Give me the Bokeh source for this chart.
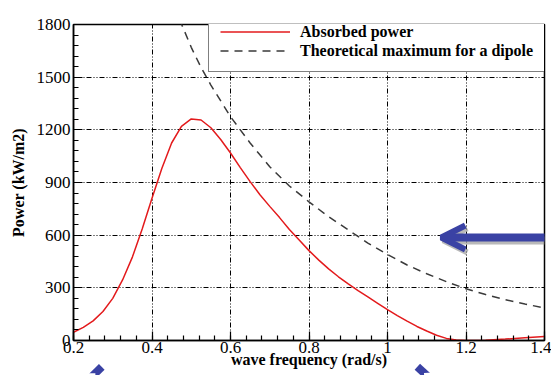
from bokeh.plotting import figure
from bokeh.models import FixedTicker, Legend, LegendItem, Arrow, OpenHead, VeeHead, Range1d
from bokeh.embed import file_html
from bokeh.resources import INLINE
import numpy as np

# ---- data ----
freq = [0.200, 0.225, 0.250, 0.275, 0.300, 0.325, 0.350, 0.375, 0.400, 0.425, 0.450,
        0.475, 0.500, 0.525, 0.550, 0.575, 0.600, 0.625, 0.650, 0.675, 0.700, 0.725,
        0.750, 0.775, 0.800, 0.825, 0.850, 0.875, 0.900, 0.925, 0.950, 0.975, 1.000,
        1.025, 1.050, 1.075, 1.100, 1.125, 1.150, 1.175, 1.200, 1.250, 1.300, 1.350, 1.400]
absorbed_power = [47, 75, 112, 165, 240, 345, 475, 635, 810, 980, 1125,
                  1220, 1262, 1256, 1212, 1145, 1068, 985, 905, 830, 764, 700,
                  632, 572, 512, 458, 408, 363, 322, 284, 248, 212, 176,
                  142, 110, 80, 54, 30, 12, 3, 0, 1, 8, 16, 23]

freq_max = [0.47, 0.50, 0.525, 0.55, 0.60, 0.65, 0.70, 0.75, 0.80, 0.85, 0.90, 0.95,
            1.00, 1.05, 1.10, 1.15, 1.20, 1.25, 1.30, 1.35, 1.40]
theoretical_max = [1830, 1670, 1555, 1455, 1275, 1125, 990, 880, 790, 705, 630, 555,
                   490, 430, 380, 335, 295, 262, 233, 208, 185]

series_names = ["Absorbed power", "Theoretical maximum for a dipole"]
x_ticks = [0.2, 0.4, 0.6, 0.8, 1.0, 1.2, 1.4]
x_tick_labels = ["0.2", "0.4", "0.6", "0.8", "1", "1.2", "1.4"]
y_ticks = [0, 300, 600, 900, 1200, 1500, 1800]
y_tick_labels = ["0", "300", "600", "900", "1200", "1500", "1800"]
x_label = "wave frequency (rad/s)"
y_label = "Power (kW/m2)"

FONT = "Liberation Serif"
RED = "#e31a1c"
DASH_COLOR = "#3a3a3a"
BLUE = "#3a42a4"

p = figure(width=551, height=375, x_range=Range1d(0.2, 1.4), y_range=Range1d(0, 1800),
           output_backend="svg", toolbar_location=None,
           min_border_left=73, min_border_right=7, min_border_top=24, min_border_bottom=35)
p.background_fill_color = "white"
p.border_fill_color = "white"
p.outline_line_color = "black"
p.outline_line_width = 1.5
p.outline_line_alpha = 1.0

# ticks
xt = FixedTicker(ticks=x_ticks, minor_ticks=list(np.round(np.arange(0.2, 1.4001, 0.04), 4)))
yt = FixedTicker(ticks=y_ticks, minor_ticks=list(range(0, 1801, 60)))
p.xaxis.ticker = xt
p.yaxis.ticker = yt
p.xaxis.major_label_overrides = {v: s for v, s in zip(x_ticks, x_tick_labels)}
p.yaxis.major_label_overrides = {v: s for v, s in zip(y_ticks, y_tick_labels)}

for ax in (p.xaxis[0], p.yaxis[0]):
    ax.axis_line_color = "black"
    ax.axis_line_width = 1.5
    ax.major_tick_line_color = "black"
    ax.major_tick_line_width = 1.2
    ax.minor_tick_line_color = "black"
    ax.minor_tick_line_width = 1.2
    ax.major_tick_in = 9
    ax.major_tick_out = 0
    ax.minor_tick_in = 5
    ax.minor_tick_out = 0
    ax.major_label_text_font = FONT
    ax.major_label_text_font_size = "17px"
    ax.major_label_text_color = "black"
    ax.axis_label_text_font = FONT
    ax.axis_label_text_font_style = "bold"
    ax.axis_label_text_font_size = "16px"
    ax.axis_label_text_color = "black"

p.xaxis.axis_label = x_label
p.yaxis.axis_label = y_label
p.xaxis.major_label_standoff = 1
p.xaxis.axis_label_standoff = -5
p.yaxis.major_label_standoff = 3
p.yaxis.axis_label_standoff = 7

# grid
p.xgrid.ticker = FixedTicker(ticks=x_ticks[1:-1])
p.ygrid.ticker = FixedTicker(ticks=y_ticks[1:-1])
for g in (p.xgrid[0], p.ygrid[0]):
    g.grid_line_color = "black"
    g.grid_line_width = 1
    g.grid_line_dash = "5 2 1 2 1 2"

# series
r1 = p.line(freq, absorbed_power, line_color=RED, line_width=1.5)
r2 = p.line(freq_max, theoretical_max, line_color=DASH_COLOR, line_width=1.5, line_dash="8 6")

legend = Legend(items=[LegendItem(label=series_names[0], renderers=[r1]),
                       LegendItem(label=series_names[1], renderers=[r2])],
                location=(135, 268))
legend.border_line_color = "black"
legend.border_line_width = 1.5
legend.background_fill_color = "white"
legend.background_fill_alpha = 1.0
legend.label_text_font = FONT
legend.label_text_font_style = "bold"
legend.label_text_font_size = "16px"
legend.label_text_color = "black"
legend.glyph_width = 70
legend.glyph_height = 19
legend.label_height = 19
legend.label_standoff = 10
legend.padding = 11
legend.spacing = 0
legend.margin = 0
p.add_layout(legend)

# blue annotation arrows (decorations drawn over the original picture)
p.add_layout(Arrow(end=OpenHead(size=24, line_color="#8a8a8a", line_width=6, line_alpha=0.6),
                   x_start=1.43, y_start=570, x_end=1.142, y_end=570,
                   line_color="#8a8a8a", line_width=8, line_alpha=0.6))
p.add_layout(Arrow(end=OpenHead(size=24, line_color=BLUE, line_width=6),
                   x_start=1.43, y_start=587, x_end=1.137, y_end=587,
                   line_color=BLUE, line_width=8))
p.add_layout(Arrow(end=VeeHead(size=18, fill_color=BLUE, line_color=BLUE),
                   x_start=0.218, y_start=-270, x_end=0.272, y_end=-150,
                   line_color=BLUE, line_width=8))
p.add_layout(Arrow(end=VeeHead(size=18, fill_color=BLUE, line_color=BLUE),
                   x_start=1.135, y_start=-270, x_end=1.076, y_end=-150,
                   line_color=BLUE, line_width=8))

open("out.html", "w").write(file_html(p, INLINE))
